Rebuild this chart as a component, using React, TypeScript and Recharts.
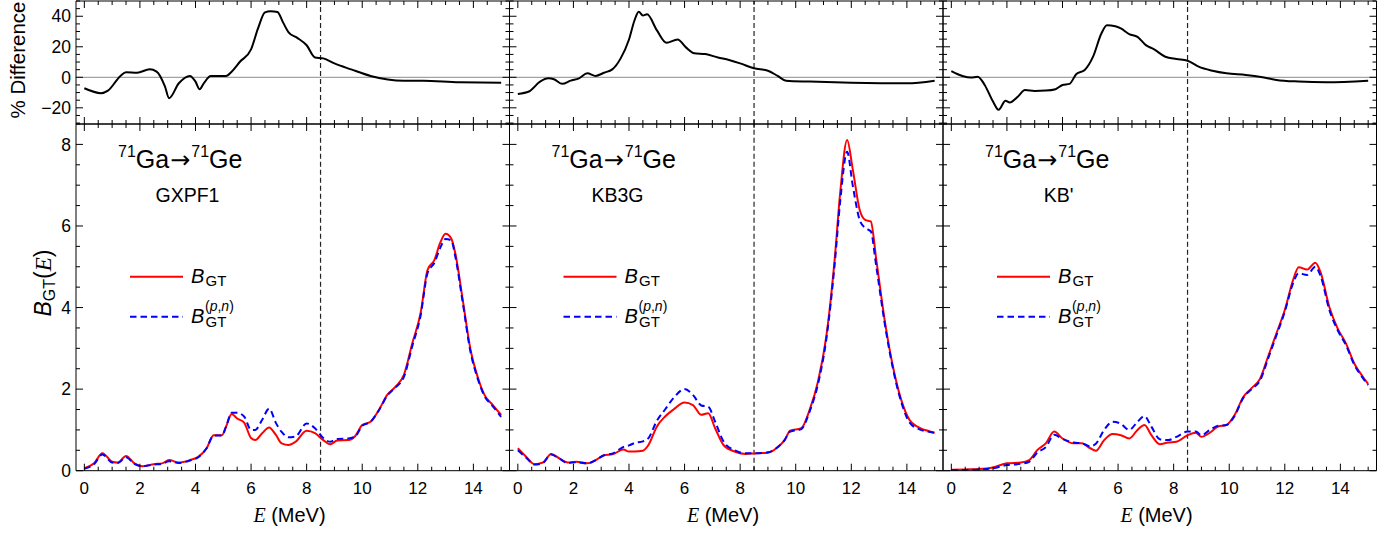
import React from "react";
import { LineChart, Line, XAxis, YAxis, ReferenceLine } from "recharts";

const W = 1395;
const H = 536;
const SANS = "'Liberation Sans', Arial, Helvetica, sans-serif";
const SERIF = "'Liberation Serif', 'Times New Roman', serif";

// ---- GXPF1 ----
const energyGxpf1 = [0, 0.35, 0.65, 1.0, 1.2, 1.5, 1.8, 2.1, 2.5, 2.8, 3.05, 3.4, 3.8, 4.1, 4.4, 4.65, 4.95, 5.1, 5.3, 5.5, 5.75, 6.0, 6.15, 6.4, 6.65, 6.9, 7.1, 7.35, 7.6, 8.0, 8.3, 8.6, 8.85, 9.1, 9.5, 9.75, 10.0, 10.3, 10.6, 10.9, 11.2, 11.5, 11.8, 12.1, 12.35, 12.6, 12.8, 13.0, 13.2, 13.35, 13.6, 13.9, 14.15, 14.4, 14.7, 15.0];
const bgtGxpf1 = [0.06, 0.18, 0.43, 0.22, 0.2, 0.36, 0.18, 0.11, 0.16, 0.18, 0.26, 0.2, 0.26, 0.34, 0.55, 0.87, 0.87, 1.08, 1.39, 1.28, 1.18, 0.8, 0.75, 0.92, 1.06, 0.87, 0.67, 0.63, 0.71, 0.98, 0.92, 0.75, 0.65, 0.74, 0.75, 0.85, 1.12, 1.2, 1.49, 1.86, 2.06, 2.35, 3.12, 3.86, 4.92, 5.17, 5.58, 5.81, 5.7, 5.33, 4.27, 2.96, 2.31, 1.86, 1.61, 1.37];
const bgtPnGxpf1 = [0.05, 0.16, 0.4, 0.2, 0.19, 0.33, 0.17, 0.11, 0.15, 0.17, 0.23, 0.19, 0.25, 0.33, 0.55, 0.86, 0.86, 1.08, 1.42, 1.42, 1.33, 1.0, 1.0, 1.25, 1.52, 1.16, 0.95, 0.82, 0.84, 1.16, 1.04, 0.8, 0.71, 0.78, 0.79, 0.84, 1.1, 1.2, 1.48, 1.84, 2.04, 2.3, 3.05, 3.8, 4.84, 5.1, 5.45, 5.68, 5.65, 5.25, 4.2, 2.9, 2.27, 1.83, 1.58, 1.32];
const diffEnergyGxpf1 = [0, 0.6, 0.85, 1.3, 1.5, 1.9, 2.35, 2.6, 2.9, 3.05, 3.4, 3.8, 4.0, 4.15, 4.3, 4.55, 5.1, 5.3, 5.6, 6.0, 6.25, 6.5, 6.7, 6.95, 7.15, 7.35, 7.65, 8.0, 8.3, 8.6, 9.0, 9.6, 10.3, 11.5, 12.2, 13.5, 15.0];
const diffGxpf1 = [-7.2, -10.4, -8.7, 0.9, 3.3, 3.0, 5.2, 3.7, -6.0, -13.7, -3.9, 0.9, -2.8, -7.8, -3.9, 0.9, 0.9, 3.7, 10.2, 18.3, 32, 42.5, 43.3, 42.8, 36, 29.5, 26, 21, 13, 12.4, 9.1, 5.2, 0.9, -2.2, -2.2, -3.3, -3.5];

// ---- KB3G ----
const energyKb3g = [0, 0.3, 0.6, 0.9, 1.2, 1.5, 1.8, 2.1, 2.5, 2.8, 3.1, 3.4, 3.8, 4.0, 4.2, 4.5, 4.7, 5.0, 5.3, 5.6, 6.0, 6.3, 6.6, 6.85, 7.1, 7.4, 7.8, 8.2, 8.6, 9.0, 9.3, 9.6, 9.8, 10.2, 10.5, 10.8, 11.1, 11.4, 11.6, 11.85, 12.05, 12.3, 12.5, 12.7, 12.9, 13.2, 13.5, 13.8, 14.1, 14.5, 14.75, 15.0];
const bgtKb3g = [0.55, 0.34, 0.16, 0.2, 0.41, 0.3, 0.2, 0.22, 0.18, 0.26, 0.38, 0.4, 0.52, 0.47, 0.47, 0.49, 0.63, 1.08, 1.33, 1.5, 1.67, 1.61, 1.37, 1.41, 1.04, 0.63, 0.47, 0.41, 0.43, 0.44, 0.55, 0.75, 0.98, 1.04, 1.49, 2.18, 3.29, 5.17, 6.81, 8.11, 7.4, 6.4, 6.15, 6.11, 5.17, 3.7, 2.55, 1.73, 1.24, 1.04, 0.98, 0.93];
const bgtPnKb3g = [0.5, 0.32, 0.15, 0.19, 0.4, 0.29, 0.19, 0.21, 0.18, 0.26, 0.38, 0.42, 0.58, 0.62, 0.68, 0.72, 0.8, 1.22, 1.5, 1.78, 2.0, 1.86, 1.6, 1.57, 1.2, 0.72, 0.5, 0.43, 0.43, 0.45, 0.55, 0.75, 0.96, 1.02, 1.45, 2.12, 3.22, 5.05, 6.6, 7.82, 7.0, 6.15, 5.95, 5.87, 5.0, 3.62, 2.5, 1.68, 1.18, 1.0, 0.96, 0.93];
const diffEnergyKb3g = [0, 0.4, 0.8, 1.1, 1.3, 1.6, 1.9, 2.2, 2.5, 2.8, 3.1, 3.4, 3.7, 4.0, 4.2, 4.35, 4.5, 4.65, 5.0, 5.35, 5.75, 6.05, 6.35, 6.75, 7.2, 7.6, 8.0, 8.5, 9.0, 9.35, 9.65, 10.5, 12.0, 14.0, 15.0];
const diffKb3g = [-10.9, -9.3, -2.8, -0.7, -1.3, -4.3, -2.2, -0.7, 2.6, 0.9, 3.0, 5.2, 12.4, 24.8, 37.4, 43, 40.5, 41.3, 30.9, 22.6, 24.8, 19.6, 15.7, 15.2, 13.0, 11.3, 9.1, 5.9, 4.3, 0.9, -2.2, -2.8, -3.5, -3.9, -2.2];

// ---- KB' ----
const energyKbp = [0, 0.5, 1.0, 1.5, 2.0, 2.5, 2.8, 3.1, 3.4, 3.7, 4.0, 4.4, 4.7, 5.0, 5.2, 5.5, 5.8, 6.1, 6.4, 6.7, 6.95, 7.2, 7.5, 7.8, 8.1, 8.5, 8.8, 9.0, 9.3, 9.6, 9.9, 10.2, 10.5, 10.8, 11.1, 11.4, 11.7, 12.0, 12.3, 12.5, 12.8, 13.1, 13.3, 13.6, 13.9, 14.2, 14.5, 14.8, 15.0];
const bgtKbp = [0.02, 0.03, 0.04, 0.08, 0.18, 0.2, 0.26, 0.51, 0.67, 0.96, 0.79, 0.67, 0.67, 0.55, 0.49, 0.75, 0.9, 0.87, 0.79, 1.0, 1.12, 0.87, 0.65, 0.69, 0.71, 0.87, 0.93, 0.83, 0.93, 1.08, 1.12, 1.37, 1.8, 2.02, 2.24, 2.8, 3.37, 3.94, 4.68, 4.99, 4.93, 5.1, 4.84, 4.02, 3.49, 3.12, 2.63, 2.31, 2.13];
const bgtPnKbp = [0.01, 0.02, 0.03, 0.06, 0.14, 0.17, 0.22, 0.45, 0.58, 0.88, 0.78, 0.69, 0.67, 0.6, 0.66, 1.0, 1.2, 1.15, 1.0, 1.2, 1.34, 1.08, 0.77, 0.75, 0.83, 0.96, 0.96, 0.87, 1.0, 1.1, 1.12, 1.35, 1.78, 2.0, 2.2, 2.75, 3.32, 3.9, 4.6, 4.84, 4.8, 5.0, 4.75, 3.95, 3.45, 3.08, 2.6, 2.28, 2.1];
const diffEnergyKbp = [0, 0.4, 0.7, 0.95, 1.2, 1.5, 1.7, 1.95, 2.1, 2.4, 2.65, 3.0, 3.4, 3.75, 4.0, 4.25, 4.5, 4.8, 5.1, 5.4, 5.6, 5.9, 6.1, 6.4, 6.7, 7.0, 7.3, 7.7, 8.1, 8.5, 8.9, 9.4, 9.9, 10.6, 11.2, 11.7, 12.5, 13.5, 15.0];
const diffKbp = [4.1, 0.9, -0.2, 0.4, -5, -15.9, -21.3, -15.4, -16.5, -12.6, -8.3, -8.9, -8.7, -7.8, -5, -4.3, 2.2, 4.8, 13.5, 28.7, 34.1, 33.5, 32, 28.3, 26.5, 21.1, 18.3, 13.5, 12, 10.9, 7, 4.3, 2.6, 1.5, 0, -1.7, -2.8, -3.3, -2.2];

// ---- ticks ----
const energyTicks = [0, 0.5, 1, 1.5, 2, 2.5, 3, 3.5, 4, 4.5, 5, 5.5, 6, 6.5, 7, 7.5, 8, 8.5, 9, 9.5, 10, 10.5, 11, 11.5, 12, 12.5, 13, 13.5, 14, 14.5, 15];
const bgtTicks = [0, 0.5, 1, 1.5, 2, 2.5, 3, 3.5, 4, 4.5, 5, 5.5, 6, 6.5, 7, 7.5, 8, 8.5];
const diffTicks = [-30, -25, -20, -15, -10, -5, 0, 5, 10, 15, 20, 25, 30, 35, 40, 45, 50];
const modelNames = ["GXPF1", "KB3G", "KB'"];
const thresholdEnergy = 8.5;

// layout (plot boxes in page pixels)
const colLeft = [76, 509.5, 943];
const colW = 433.5;
const topBox = { top: 1, bottom: 124 };
const botBox = { top: 124, bottom: 470.7 };
const eDomain: [number, number] = [-0.3, 15.3];
const bgtDomain: [number, number] = [0, 8.5];
const diffDomain: [number, number] = [-30.6, 50];
const nameOffset = [111.5, 108, 115.5];

const panels = [
  { e: energyGxpf1, a: bgtGxpf1, b: bgtPnGxpf1, de: diffEnergyGxpf1, d: diffGxpf1 },
  { e: energyKb3g, a: bgtKb3g, b: bgtPnKb3g, de: diffEnergyKb3g, d: diffKb3g },
  { e: energyKbp, a: bgtKbp, b: bgtPnKbp, de: diffEnergyKbp, d: diffKbp },
];

type Side = "left" | "right" | "top" | "bottom";
const fmtNum = (v: number) => (v < 0 ? "\u2212" + Math.abs(v) : String(v));

function makeTick(side: Side, major: number, showLabel: boolean) {
  return (p: any) => {
    const v = Number(p.payload.value);
    const isMajor = Math.abs(v / major - Math.round(v / major)) < 1e-6;
    const len = isMajor ? 7 : 4;
    const x = Number(p.x);
    const y = Number(p.y);
    const dx = side === "left" ? len : side === "right" ? -len : 0;
    const dy = side === "bottom" ? -len : side === "top" ? len : 0;
    let label = null;
    if (showLabel && isMajor && side === "bottom") {
      label = (
        <text x={x} y={y + 23} textAnchor="middle" fontSize={17} fontFamily={SANS} fill="#000">
          {fmtNum(v)}
        </text>
      );
    }
    if (showLabel && isMajor && side === "left") {
      label = (
        <text x={x - 5} y={y + 6.2} textAnchor="end" fontSize={17.5} fontFamily={SANS} fill="#000">
          {fmtNum(v)}
        </text>
      );
    }
    return (
      <g>
        <line x1={x} y1={y} x2={x + dx} y2={y + dy} stroke="#000" strokeWidth={1} />
        {label}
      </g>
    );
  };
}

// four framed axes with inward ticks (axis size 1px so they are drawn)
function frameAxes(yDomain: [number, number], yTicks: number[], yMajor: number, xLabels: boolean, yLabels: boolean) {
  const common = { tickSize: 0, tickMargin: 0, tickLine: false, interval: 0 as const, allowDataOverflow: true, axisLine: { stroke: "#000", strokeWidth: 1 } };
  return [
    <XAxis key="xb" xAxisId="b" orientation="bottom" type="number" dataKey="e" domain={eDomain} ticks={energyTicks} height={1} tick={makeTick("bottom", 2, xLabels)} {...common} />,
    <XAxis key="xt" xAxisId="t" orientation="top" type="number" dataKey="e" domain={eDomain} ticks={energyTicks} height={1} tick={makeTick("top", 2, false)} {...common} />,
    <YAxis key="yl" yAxisId="l" orientation="left" type="number" domain={yDomain} ticks={yTicks} width={1} tick={makeTick("left", yMajor, yLabels)} {...common} />,
    <YAxis key="yr" yAxisId="r" orientation="right" type="number" domain={yDomain} ticks={yTicks} width={1} tick={makeTick("right", yMajor, false)} {...common} />,
  ];
}

function marginFor(col: number, box: { top: number; bottom: number }) {
  return { left: colLeft[col] - 1, right: W - colLeft[col] - colW - 1, top: box.top - 1, bottom: H - box.bottom - 1 };
}

const layer: React.CSSProperties = { position: "absolute", left: 0, top: 0 };

function Annotations() {
  return (
    <svg width={W} height={H} style={layer} fontFamily={SANS}>
      <text transform="translate(25,60) rotate(-90)" textAnchor="middle" fontSize={20.5}>% Difference</text>
      <text transform="translate(51,283) rotate(-90)" textAnchor="middle" fontSize={23}>
        <tspan fontStyle="italic">B</tspan>
        <tspan fontSize={16} dy={4}>GT</tspan>
        <tspan dy={-4}>(</tspan>
        <tspan fontFamily={SERIF} fontStyle="italic">E</tspan>
        <tspan>)</tspan>
      </text>
      {colLeft.map((L, i) => (
        <g key={i}>
          <text x={L + 42} y={168} fontSize={25}>
            <tspan fontSize={16} dy={-11}>71</tspan>
            <tspan dy={11}>Ga</tspan>
            <tspan fontFamily="'DejaVu Sans', sans-serif" fontSize={24} dx={1}>→</tspan>
            <tspan fontSize={16} dy={-11} dx={1}>71</tspan>
            <tspan dy={11}>Ge</tspan>
          </text>
          <text x={L + nameOffset[i]} y={201.5} fontSize={19.5} textAnchor="middle">{modelNames[i]}</text>
          <line x1={L + 54} x2={L + 107} y1={276.7} y2={276.7} stroke="#ff0000" strokeWidth={2} />
          <text x={L + 115} y={283.3} fontSize={20} fontStyle="italic">B</text>
          <text x={L + 129.5} y={285.5} fontSize={15}>GT</text>
          <line x1={L + 54} x2={L + 107} y1={316.7} y2={316.7} stroke="#0000ff" strokeWidth={2} strokeDasharray="6.5 4" />
          <text x={L + 115} y={323.3} fontSize={20} fontStyle="italic">B</text>
          <text x={L + 129.5} y={327} fontSize={15}>GT</text>
          <text x={L + 129} y={310.5} fontSize={14}>
            (<tspan fontStyle="italic">p</tspan>,<tspan fontStyle="italic">n</tspan>)
          </text>
          <text x={L + 213.5} y={521.5} fontSize={20} textAnchor="middle">
            <tspan fontFamily={SERIF} fontStyle="italic">E</tspan> (MeV)
          </text>
        </g>
      ))}
    </svg>
  );
}

export default function App() {
  return (
    <div style={{ position: "absolute", left: 0, top: 0, width: W, height: H, background: "#fff", overflow: "hidden" }}>
      {panels.map((p, i) => {
        const diffRows = p.de.map((e, k) => ({ e, d: p.d[k] }));
        const bgtRows = p.e.map((e, k) => ({ e, a: p.a[k], b: p.b[k] }));
        return (
          <React.Fragment key={i}>
            <div style={layer}>
              <LineChart width={W} height={H} data={diffRows} margin={marginFor(i, topBox)}>
                {frameAxes(diffDomain, diffTicks, 20, false, i === 0)}
                <ReferenceLine xAxisId="b" yAxisId="l" y={0} stroke="#8c8c8c" strokeWidth={1} />
                <ReferenceLine xAxisId="b" yAxisId="l" x={thresholdEnergy} stroke="#222" strokeWidth={1.2} strokeDasharray="5 3" />
                <Line xAxisId="b" yAxisId="l" dataKey="d" type="monotone" stroke="#000" strokeWidth={2} dot={false} isAnimationActive={false} />
              </LineChart>
            </div>
            <div style={layer}>
              <LineChart width={W} height={H} data={bgtRows} margin={marginFor(i, botBox)}>
                {frameAxes(bgtDomain, bgtTicks, 2, true, i === 0)}
                <ReferenceLine xAxisId="b" yAxisId="l" x={thresholdEnergy} stroke="#222" strokeWidth={1.2} strokeDasharray="5 3" />
                <Line xAxisId="b" yAxisId="l" dataKey="a" type="monotone" stroke="#ff0000" strokeWidth={2} dot={false} isAnimationActive={false} />
                <Line xAxisId="b" yAxisId="l" dataKey="b" type="monotone" stroke="#0000ff" strokeWidth={2} strokeDasharray="6.5 4" dot={false} isAnimationActive={false} />
              </LineChart>
            </div>
          </React.Fragment>
        );
      })}
      <Annotations />
    </div>
  );
}
